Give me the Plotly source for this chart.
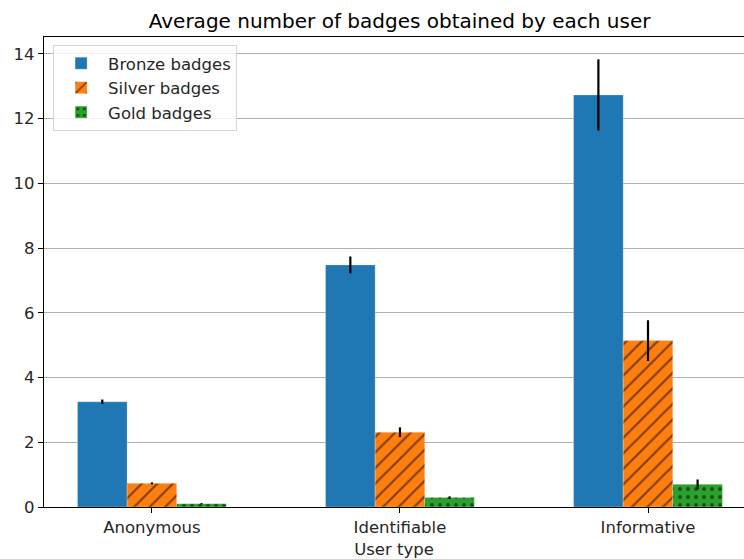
import plotly.graph_objects as go

# Mean badge counts per user type, with error-bar half-widths
user_types = ["Anonymous", "Identifiable", "Informative"]
bronze_mean = [3.25, 7.48, 12.73]
bronze_err = [0.07, 0.26, 1.10]
silver_mean = [0.73, 2.31, 5.14]
silver_err = [0.03, 0.15, 0.63]
gold_mean = [0.10, 0.29, 0.70]
gold_err = [0.02, 0.04, 0.15]
y_ticks = [0, 2, 4, 6, 8, 10, 12, 14]

FONT = "DejaVu Sans"
BLUE = "#1f77b4"
ORANGE = "#ff7f0e"
GREEN = "#2ca02c"
TEXT = "#262626"

x_pos = list(range(len(user_types)))

fig = go.Figure()

series = [
    ("Bronze badges", bronze_mean, bronze_err, BLUE, "", 8, 0.2),
    ("Silver badges", silver_mean, silver_err, ORANGE, "/", 11, 0.2),
    ("Gold badges", gold_mean, gold_err, GREEN, ".", 8, 0.18),
]
for name, vals, errs, color, shape, psize, solid in series:
    fig.add_trace(go.Bar(
        name=name,
        x=x_pos,
        y=vals,
        error_y=dict(type="data", array=errs, visible=True,
                     color="black", thickness=2.2, width=0),
        marker=dict(
            color=color,
            line=dict(color="rgba(255,255,255,0.5)", width=0.5),
            pattern=dict(shape=shape, fgcolor="black", bgcolor=color,
                         size=psize, solidity=solid, fillmode="overlay"),
        ),
    ))

fig.update_layout(
    width=744,
    height=559,
    barmode="group",
    bargap=0.4,
    bargroupgap=0,
    plot_bgcolor="white",
    paper_bgcolor="white",
    margin=dict(l=44, r=0, t=37, b=52),
    font=dict(family=FONT, size=16.5, color=TEXT),
    title=dict(
        text="Average number of badges obtained by each user",
        xref="paper", x=0.508, xanchor="center", y=0.963, yanchor="middle",
        font=dict(family=FONT, size=20, color="black"),
    ),
    legend=dict(
        x=0.013, y=0.983, xanchor="left", yanchor="top",
        bgcolor="rgba(255,255,255,0.8)",
        bordercolor="#d6d6d6", borderwidth=1,
        font=dict(family=FONT, size=16.5, color=TEXT),
        itemwidth=44,
        tracegroupgap=2,
    ),
    showlegend=True,
)

fig.update_xaxes(
    tickmode="array",
    tickvals=x_pos,
    ticktext=user_types,
    range=[-0.435, 2.387],
    showline=True, linecolor="black", linewidth=1.2, mirror=True,
    ticks="outside", ticklen=5, tickcolor="black",
    showgrid=False, zeroline=False,
    title=dict(text="User type", font=dict(family=FONT, size=16.5, color=TEXT), standoff=8),
    tickfont=dict(family=FONT, size=16.5, color=TEXT),
)
fig.update_yaxes(
    tickmode="array",
    tickvals=y_ticks,
    range=[0, 14.52],
    showline=True, linecolor="black", linewidth=1.2,
    ticks="outside", ticklen=5, tickcolor="black",
    showgrid=True, gridcolor="#b0b0b0", gridwidth=1,
    zeroline=False,
    layer="above traces",
    tickfont=dict(family=FONT, size=16.5, color=TEXT),
)

fig.write_html("out.html")
